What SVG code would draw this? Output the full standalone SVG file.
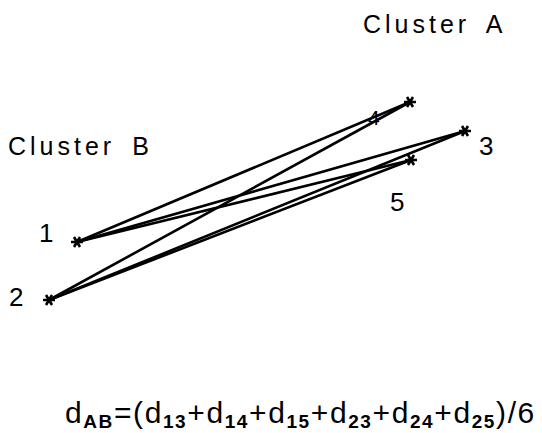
<svg xmlns="http://www.w3.org/2000/svg" width="542" height="433" viewBox="0 0 542 433">
<style>
text{font-family:"Liberation Sans","DejaVu Sans",sans-serif;fill:#000}
.lbl{font-size:26px}
.ttl{font-size:25px;letter-spacing:4px}
.ln{stroke:#000;stroke-width:2.6;fill:none;stroke-linecap:round}
.st{stroke:#000;stroke-width:2.6;fill:none}
.f{font-size:30px;letter-spacing:1.6px}
.s{font-size:19px;font-weight:bold}
</style>
<defs>
<g id="star">
<path class="st" d="M-6,0H6M-3,-5L3,5M3,-5L-3,5"/>
</g>
</defs>
<rect width="542" height="433" fill="#fff"/>
<g id="connectors">
<line class="ln" x1="77" y1="242" x2="410" y2="102"/>
<line class="ln" x1="49" y1="300" x2="410" y2="102"/>
<line class="ln" x1="77" y1="242" x2="465" y2="131"/>
<line class="ln" x1="49" y1="300" x2="465" y2="131"/>
<line class="ln" x1="77" y1="242" x2="411" y2="160"/>
<line class="ln" x1="49" y1="300" x2="411" y2="160"/>
</g>
<g id="node1"><use href="#star" x="77" y="242"/><text class="lbl" x="39" y="242">1</text></g>
<g id="node2"><use href="#star" x="49" y="300"/><text class="lbl" x="9" y="306">2</text></g>
<g id="node3"><use href="#star" x="465" y="131"/><text class="lbl" x="479" y="155">3</text></g>
<g id="node4"><use href="#star" x="410" y="102"/><text class="lbl" x="368" y="125" style="font-size:21px">4</text></g>
<g id="node5"><use href="#star" x="411" y="160"/><text class="lbl" x="390" y="211">5</text></g>
<g id="clusterA"><text class="ttl" x="363" y="33">Cluster <tspan dx="6">A</tspan></text></g>
<g id="clusterB"><text class="ttl" x="8" y="155">Cluster <tspan dx="6">B</tspan></text></g>
<g id="formula"><text class="f" x="65" y="423">d<tspan class="s" dy="5">AB</tspan><tspan dy="-5">=(d</tspan><tspan class="s" dy="5">13</tspan><tspan dy="-5">+d</tspan><tspan class="s" dy="5">14</tspan><tspan dy="-5">+d</tspan><tspan class="s" dy="5">15</tspan><tspan dy="-5">+d</tspan><tspan class="s" dy="5">23</tspan><tspan dy="-5">+d</tspan><tspan class="s" dy="5">24</tspan><tspan dy="-5">+d</tspan><tspan class="s" dy="5">25</tspan><tspan dy="-5">)/6</tspan></text></g>
</svg>
